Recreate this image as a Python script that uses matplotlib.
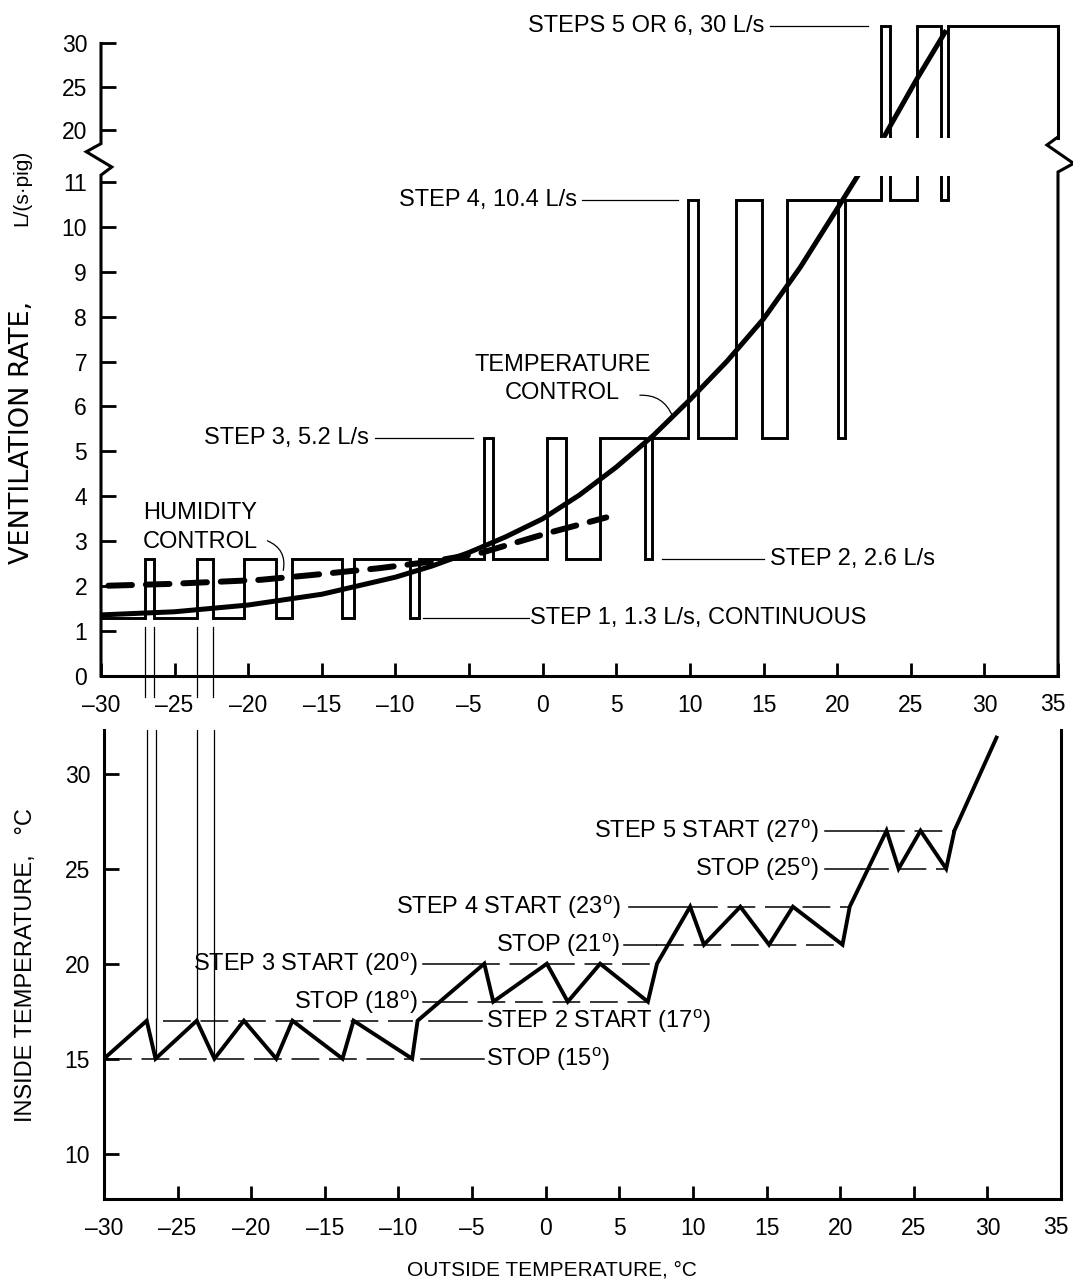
import matplotlib
matplotlib.use('Agg')
import matplotlib.pyplot as plt
from matplotlib import font_manager
from matplotlib.transforms import ScaledTranslation

names = {f.name for f in font_manager.fontManager.ttflist}
plt.rcParams['font.family'] = ['Liberation Sans', 'DejaVu Sans']
plt.rcParams['lines.scale_dashes'] = False
plt.rcParams['mathtext.fontset'] = 'custom'
plt.rcParams['mathtext.rm'] = 'Liberation Sans'
NARROW = 'Liberation Sans Narrow' if 'Liberation Sans Narrow' in names else 'Liberation Sans'

# ---------------- data ----------------
# top panel: ventilation rate step function (edges in deg C, level per interval in L/(s.pig))
step_x = [-30, -27.0, -26.4, -23.46, -22.38, -20.27, -18.14, -17.05, -13.62, -12.82,
          -9.02, -8.41, -4.0, -3.37, 0.26, 1.58, 3.88, 6.95, 7.45, 9.87,
          10.55, 13.16, 14.9, 16.62, 20.06, 20.51, 23.0, 23.56, 25.42, 27.07,
          27.52, 35]
step_y = [1.3, 2.6, 1.3, 2.6, 1.3, 2.6, 1.3, 2.6, 1.3, 2.6,
          1.3, 2.6, 5.3, 2.6, 5.3, 2.6, 5.3, 2.6, 5.3, 10.6,
          5.3, 10.6, 5.3, 10.6, 5.3, 10.6, 32, 10.6, 32, 10.6,
          32]
# temperature control curve (lower and upper part of broken axis)
tc_lo_x = [-30, -25, -20, -15, -10, -7.5, -5, -2.5, 0, 2.5, 5, 7.5, 10, 12.5, 15, 17.5, 20, 21.9]
tc_lo_y = [1.36, 1.43, 1.58, 1.82, 2.2, 2.45, 2.75, 3.1, 3.5, 4.03, 4.65, 5.35, 6.15, 7.0,
           7.95, 9.1, 10.4, 11.4]
tc_up_x = [23.15, 25.38, 27.41]
tc_up_y = [19.1, 25.77, 31.5]
# humidity control curve
hum_x = [-29.5, -25.3, -19.2, -15.6, -11.1, -7.7, -4.3, 0.33, 4.32]
hum_y = [2.01, 2.05, 2.14, 2.25, 2.40, 2.54, 2.73, 3.18, 3.53]
# bottom panel: inside temperature vs outside temperature
tin_x = [-30, -27.1, -26.5, -23.7, -22.5, -20.5, -18.3, -17.2, -13.8, -13.05, -9.07, -8.7,
         -4.17, -3.56, 0.08, 1.5, 3.7, 6.94, 7.56, 9.81, 10.75, 13.22, 15.17, 16.79, 20.16,
         20.65, 23.15, 23.97, 25.46, 27.2, 27.76, 30.62]
tin_y = [15.0, 17.0, 15.0, 17.0, 15.0, 17.0, 15.0, 17.0, 15.0, 17.0, 15.0, 17.0,
         20.0, 18.0, 20.0, 18.0, 20.0, 18.0, 20.0, 23.0, 21.0, 23.0, 21.0, 23.0, 21.0,
         23.0, 27.0, 25.0, 27.0, 25.0, 27.0, 31.9]
# thermostat set points
guide_levels = [15, 17, 18, 20, 21, 23, 25, 27]
guide_labels = ['STOP (15$^{\\rm o}$)', 'STEP 2 START (17$^{\\rm o}$)', 'STOP (18$^{\\rm o}$)',
                'STEP 3 START (20$^{\\rm o}$)', 'STOP (21$^{\\rm o}$)', 'STEP 4 START (23$^{\\rm o}$)',
                'STOP (25$^{\\rm o}$)', 'STEP 5 START (27$^{\\rm o}$)']
x_ticks = list(range(-30, 36, 5))
x_ticklabels = [('\u2013%d' % -v) if v < 0 else str(v) for v in x_ticks]
top_lo_yticks = list(range(0, 12))
top_up_yticks = [20, 25, 30]
bot_yticks = [10, 15, 20, 25, 30]

# ---------------- layout ----------------
W, H = 1073, 1287
fig = plt.figure(figsize=(W / 100, H / 100), dpi=100)


def fx(px):
    return px / W


def fy(py):
    return 1 - py / H


ax_lo = fig.add_axes([fx(101), fy(676), fx(1058) - fx(101), fy(176) - fy(676)])
ax_up = fig.add_axes([fx(101), fy(137.7), fx(1058) - fx(101), fy(17.2) - fy(137.7)])
ax_b = fig.add_axes([fx(104), fy(1199.3), fx(1061) - fx(104), fy(730) - fy(1199.3)])

for a in (ax_lo, ax_up, ax_b):
    a.set_facecolor('none')
    a.set_xlim(-30, 35)
    for s in a.spines.values():
        s.set_linewidth(2.2)

ax_lo.set_ylim(0, 11.13)
ax_up.set_ylim(19.1, 33)
ax_b.set_ylim(7.6, 32.3)

K = 'black'
TFS = 16.5   # tick labels
AFS = 17     # annotations

# spines
for s in ('left', 'right', 'top'):
    ax_lo.spines[s].set_visible(False)
for s in ax_up.spines.values():
    s.set_visible(False)
ax_b.spines['top'].set_visible(False)

# ticks
ax_lo.set_xticks(x_ticks)
ax_lo.set_xticklabels(x_ticklabels)
ax_lo.set_yticks(top_lo_yticks)
ax_lo.tick_params(axis='x', direction='in', length=9.5, width=2, pad=13, labelsize=TFS)
ax_lo.tick_params(axis='y', direction='in', length=11, width=2, pad=10, labelsize=TFS)
ax_up.set_xticks([])
ax_up.set_yticks(top_up_yticks)
ax_up.tick_params(axis='y', direction='in', length=11, width=2, pad=10, labelsize=TFS)
ax_b.set_xticks(x_ticks)
ax_b.set_xticklabels(x_ticklabels)
ax_b.set_yticks(bot_yticks)
ax_b.tick_params(axis='x', direction='in', length=9.5, width=2, pad=13, labelsize=TFS)
ax_b.tick_params(axis='y', direction='in', length=11, width=2, pad=10, labelsize=TFS)
# keep the right-most labels inside the figure
for a in (ax_lo, ax_b):
    lab = a.get_xticklabels()[-1]
    lab.set_transform(lab.get_transform() + ScaledTranslation(-4 / 72, 1 / 72, fig.dpi_scale_trans))

# broken axis spines (lower-axes coordinates, drawn outside clip)
ax_lo.plot([-30, -30, -29.27, -31.0, -30, -30], [0, 11.15, 11.33, 11.67, 11.85, 14.08],
           color=K, lw=2.2, clip_on=False, solid_joinstyle='miter')
ax_lo.plot([35, 35, 36.06, 34.25, 35], [0, 11.22, 11.41, 11.82, 12.0],
           color=K, lw=2.2, clip_on=False, solid_joinstyle='miter')
ax_up.plot([35, 35], [step_y[-1], 19.1], color=K, lw=2.2, clip_on=False)

# ---------------- top panel marks ----------------
for a in (ax_lo, ax_up):
    a.stairs(step_y, step_x, baseline=None, color=K, lw=2.1)
ax_lo.plot(tc_lo_x, tc_lo_y, color=K, lw=3.6, solid_capstyle='butt')
ax_up.plot(tc_up_x, tc_up_y, color=K, lw=3.6, solid_capstyle='butt')
ax_lo.plot(hum_x, hum_y, color=K, lw=4.3, dashes=(17, 10), dash_capstyle='round')

# thin link lines between panels
for i in range(1, 5):
    ax_lo.plot([step_x[i], step_x[i]], [1.1, -0.47], color=K, lw=0.9, clip_on=False)
    ax_b.plot([tin_x[i], tin_x[i]], [tin_y[i], 32.3], color=K, lw=0.9)

# annotations top
tk = dict(fontsize=AFS, color=K)
ax_up.text(15.08, 32, 'STEPS 5 OR 6, 30 L/s', ha='right', va='center', **tk)
ax_up.plot([15.42, 22.07], [32, 32], color=K, lw=0.9)
ax_lo.text(2.31, 10.6, 'STEP 4, 10.4 L/s', ha='right', va='center', **tk)
ax_lo.plot([2.7, 9.19], [10.6, 10.6], color=K, lw=0.9)
ax_lo.text(-11.8, 5.3, 'STEP 3, 5.2 L/s', ha='right', va='center', **tk)
ax_lo.plot([-11.4, -4.75], [5.3, 5.3], color=K, lw=0.9)
ax_lo.text(15.42, 2.6, 'STEP 2, 2.6 L/s', ha='left', va='center', **tk)
ax_lo.plot([8.07, 15.06], [2.6, 2.6], color=K, lw=0.9)
ax_lo.text(-0.88, 1.3, 'STEP 1, 1.3 L/s, CONTINUOUS', ha='left', va='center', **tk)
ax_lo.plot([-8.14, -0.94], [1.3, 1.3], color=K, lw=0.9)
ax_lo.text(1.36, 6.92, 'TEMPERATURE', ha='center', va='center', **tk)
ax_lo.text(1.36, 6.30, 'CONTROL', ha='center', va='center', **tk)
ax_lo.annotate('', xy=(8.82, 5.78), xytext=(6.6, 6.25),
               arrowprops=dict(arrowstyle='-', color=K, lw=0.9, shrinkA=0, shrinkB=0,
                               connectionstyle='arc3,rad=-0.35'))
ax_lo.text(-27.15, 3.63, 'HUMIDITY', ha='left', va='center', **tk)
ax_lo.text(-27.15, 2.99, 'CONTROL', ha='left', va='center', **tk)
ax_lo.annotate('', xy=(-17.62, 2.35), xytext=(-18.7, 3.01),
               arrowprops=dict(arrowstyle='-', color=K, lw=0.9, shrinkA=0, shrinkB=0,
                               connectionstyle='arc3,rad=-0.4'))

# ---------------- bottom panel ----------------
ax_b.plot(tin_x, tin_y, color=K, lw=2.8, solid_joinstyle='miter')

# (label x, leader start, leader end, dash start, dash end, label side)
guide_geom = [
    (-4.05, -8.46, -4.17, -30.0, -9.12, 'left'),
    (-4.03, -7.9, -4.3, -25.98, -9.03, 'left'),
    (-8.71, -8.3, -7.2, -7.2, 6.94, 'right'),
    (-8.71, -8.3, -5.0, -5.0, 7.56, 'right'),
    (5.05, 5.3, 7.5, 7.5, 20.16, 'right'),
    (5.1, 5.66, 9.8, 9.8, 20.65, 'right'),
    (18.54, 19.0, 21.4, 21.4, 27.2, 'right'),
    (18.54, 19.0, 22.5, 22.5, 27.76, 'right'),
]
for lev, lab, (lx, s0, s1, d0, d1, side) in zip(guide_levels, guide_labels, guide_geom):
    ax_b.plot([d0, d1], [lev, lev], color=K, lw=1.1, dashes=(20, 7))
    ax_b.plot([s0, s1], [lev, lev], color=K, lw=1.1)
    ax_b.text(lx, lev, lab, ha=side, va='center', **tk)

# axis titles
fig.text(fx(22), fy(432), 'VENTILATION RATE,', rotation=90, ha='center', va='center', fontsize=19.5,
         family=['DejaVu Sans'])
fig.text(fx(22), fy(188), 'L/(s\u00b7pig)', rotation=90, ha='center', va='center', fontsize=15)
fig.text(fx(26), fy(965), 'INSIDE TEMPERATURE,   \u00b0C', rotation=90, ha='center', va='center',
         fontsize=17)
fig.text(fx(552), fy(1270), 'OUTSIDE TEMPERATURE, \u00b0C', ha='center', va='center',
         fontsize=15, family=[NARROW, 'DejaVu Sans'])

fig.savefig('out.png', dpi=100)
